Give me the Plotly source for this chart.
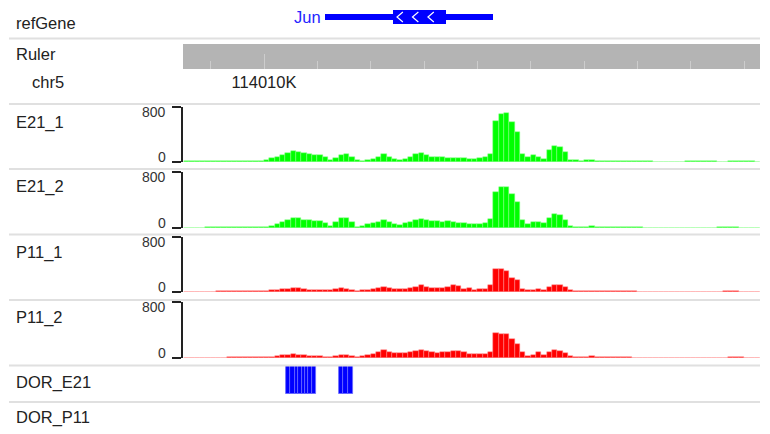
import plotly.graph_objects as go

# ---------------- data ----------------
track_names = ["E21_1", "E21_2", "P11_1", "P11_2"]
bin_start = 114008500
bin_size = 100

E21_1 = [8, 8, 8, 9, 9, 9, 10, 10, 10, 10, 11, 11, 12, 14, 16,
         30, 55, 80, 105, 135, 160, 150, 125, 110, 105, 95, 70, 35, 60, 100,
         110, 80, 30, 15, 30, 50, 75, 110, 80, 50, 30, 45, 70, 110, 125,
         95, 80, 75, 70, 65, 60, 55, 55, 50, 50, 55, 70, 120, 600, 700,
         710, 580, 430, 110, 70, 95, 75, 50, 170, 230, 225, 150, 30, 25, 20,
         22, 30, 20, 12, 10, 10, 10, 10, 9, 9, 8, 9, 8, 6, 5,
         5, 4, 4, 6, 8, 9, 9, 9, 8, 8, 7, 7, 8, 9, 9, 8, 8, 7]
E21_2 = [6, 6, 7, 7, 8, 8, 9, 9, 9, 9, 10, 10, 10, 11, 12,
         20, 35, 55, 80, 110, 150, 140, 115, 110, 105, 100, 70, 35, 90, 140,
         145, 90, 20, 35, 60, 65, 90, 120, 80, 60, 45, 65, 80, 115, 135,
         110, 100, 95, 90, 95, 80, 70, 65, 55, 60, 60, 75, 130, 520, 580,
         590, 480, 370, 110, 60, 80, 85, 70, 150, 200, 190, 120, 25, 20, 18,
         20, 25, 15, 12, 10, 10, 9, 9, 9, 8, 8, 7, 6, 4, 3,
         2, 2, 1, 1, 1, 1, 2, 3, 5, 7, 8, 8, 8, 8, 7, 7, 7, 6]
P11_1 = [4, 4, 5, 5, 6, 6, 8, 10, 15, 20, 12, 15, 18, 8, 12,
         18, 25, 30, 40, 50, 60, 55, 45, 35, 30, 25, 25, 25, 40, 55,
         50, 35, 10, 25, 35, 45, 60, 80, 65, 45, 40, 50, 60, 80, 95,
         75, 65, 60, 60, 70, 95, 85, 50, 55, 35, 40, 50, 100, 340, 330,
         300, 210, 175, 50, 25, 35, 40, 35, 80, 100, 100, 75, 25, 18, 15,
         15, 20, 15, 12, 10, 10, 9, 9, 8, 8, 7, 6, 5, 4, 4,
         3, 3, 3, 4, 4, 5, 5, 5, 6, 6, 7, 9, 11, 9, 7, 6, 6, 6]
P11_2 = [4, 4, 4, 5, 5, 6, 6, 7, 8, 10, 12, 10, 12, 10, 12,
         15, 20, 28, 38, 48, 55, 50, 42, 35, 30, 25, 20, 20, 35, 45,
         40, 25, 10, 30, 50, 60, 85, 110, 90, 70, 65, 70, 80, 100, 120,
         95, 80, 75, 80, 90, 100, 95, 80, 60, 55, 55, 60, 90, 360, 340,
         345, 270, 200, 90, 35, 50, 85, 40, 90, 115, 100, 70, 25, 20, 15,
         15, 22, 15, 12, 10, 9, 9, 8, 8, 7, 6, 6, 5, 4, 3,
         3, 3, 3, 3, 4, 4, 5, 5, 4, 4, 5, 7, 8, 8, 8, 7, 7, 7]
signal_values = [E21_1, E21_2, P11_1, P11_2]
signal_colors = ["#00ff00", "#00ff00", "#ff0000", "#ff0000"]
signal_edge = ["#8cff8c", "#8cff8c", "#ff8c8c", "#ff8c8c"]
y_max = 800
y_ticks = [0, 800]

# refGene (Jun, minus strand, single exon)
gene_name = "Jun"
gene_start, gene_end = 114011144, 114014294
cds_start, cds_end = 114012419, 114013413
arrow_step = 290

# DOR_E21 peaks
dor_e21_starts = [114010412, 114010487, 114010581, 114010637, 114010712, 114010769, 114010825, 114010900,
                  114011406, 114011481, 114011575]
dor_e21_ends = [114010487, 114010581, 114010637, 114010712, 114010769, 114010825, 114010900, 114010975,
                114011481, 114011575, 114011669]
dor_p11_starts = []
dor_p11_ends = []

# ruler
ruler_ticks = [114009000 + 1000 * k for k in range(11)]
ruler_label_pos = [114010000]
ruler_label_text = ["114010K"]
chrom = "chr5"
x_range = [114008481.25, 114019300]

# ---------------- layout helpers ----------------
W, H = 770, 434


def py(px):
    return 1 - px / H


FONT = "Liberation Sans, Arial, sans-serif"
TXT = "#222222"

fig = go.Figure()

# ruler background band
fig.add_trace(go.Bar(x=[(x_range[0] + x_range[1]) / 2], width=[x_range[1] - x_range[0]], y=[1], base=[0],
                     marker=dict(color="#b4b4b4", line=dict(width=0)), xaxis="x", yaxis="y2", hoverinfo="skip"))

# refGene
fig.add_trace(go.Bar(x=[(gene_start + gene_end) / 2], width=[gene_end - gene_start], base=[-0.22], y=[0.44],
                     marker=dict(color="#0000ff", line=dict(width=0)), xaxis="x", yaxis="y", hoverinfo="skip"))
fig.add_trace(go.Bar(x=[(cds_start + cds_end) / 2], width=[cds_end - cds_start], base=[-0.47], y=[0.94],
                     marker=dict(color="#0000ff", line=dict(width=0)), xaxis="x", yaxis="y", hoverinfo="skip"))
cx, cy = [], []
c = cds_start + 130
while c < cds_end - 60:
    cx += [c + 55, c - 55, c + 55, None]
    cy += [0.33, 0.0, -0.33, None]
    c += arrow_step
fig.add_trace(go.Scatter(x=cx, y=cy, mode="lines", line=dict(color="white", width=1.2),
                         xaxis="x", yaxis="y", hoverinfo="skip"))

# signal tracks
centers = [bin_start + bin_size * (i + 0.5) for i in range(len(E21_1))]
for k, vals in enumerate(signal_values):
    fig.add_trace(go.Bar(x=centers, y=vals, width=[bin_size] * len(vals),
                         marker=dict(color=signal_colors[k], line=dict(color=signal_edge[k], width=0.5)),
                         xaxis="x", yaxis="y%d" % (k + 3), hoverinfo="skip"))

# DOR tracks
for ax, ss, ee in [("y7", dor_e21_starts, dor_e21_ends), ("y8", dor_p11_starts, dor_p11_ends)]:
    fig.add_trace(go.Bar(x=[(s + e) / 2 for s, e in zip(ss, ee)], width=[e - s for s, e in zip(ss, ee)],
                         y=[1] * len(ss), base=[0] * len(ss),
                         marker=dict(color="#0000ff", line=dict(color="#6a6aff", width=0.8)),
                         xaxis="x", yaxis=ax, hoverinfo="skip"))

hidden = dict(showgrid=False, zeroline=False, showline=False, showticklabels=False, ticks="", fixedrange=True)

layout = dict(
    width=W, height=H, margin=dict(l=0, r=0, t=0, b=0),
    paper_bgcolor="white", plot_bgcolor="rgba(0,0,0,0)", showlegend=False, barmode="overlay", bargap=0,
    xaxis=dict(domain=[183 / W, 760 / W], range=x_range, anchor="y2", showgrid=False, zeroline=False,
               showline=False, ticks="inside", tickvals=ruler_label_pos, ticktext=ruler_label_text,
               ticklen=15, tickwidth=1, tickcolor="#cdcdcd",
               minor=dict(tickvals=ruler_ticks, ticks="inside", ticklen=8, tickwidth=1, tickcolor="#cdcdcd",
                          showgrid=False),
               tickfont=dict(family=FONT, size=16.5, color=TXT), ticklabelstandoff=1, fixedrange=True),
    yaxis=dict(domain=[py(32), py(2)], range=[-1, 1], anchor="x", **hidden),
    yaxis2=dict(domain=[py(69), py(44)], range=[0, 1], anchor="x", **hidden),
)
track_px = [(107, 162), (172, 228), (237, 292), (302, 358)]
for k, (top, bot) in enumerate(track_px):
    layout["yaxis%d" % (k + 3)] = dict(domain=[py(bot), py(top)], range=[0, y_max], anchor="x",
                                       showgrid=False, zeroline=False, showline=True, linecolor=TXT, linewidth=2,
                                       ticks="outside", ticklen=9, tickwidth=2, tickcolor=TXT, tickvals=y_ticks,
                                       showticklabels=False, fixedrange=True)
layout["yaxis7"] = dict(domain=[py(394), py(366)], range=[0, 1], anchor="x", **hidden)
layout["yaxis8"] = dict(domain=[py(432), py(404)], range=[0, 1], anchor="x", **hidden)

shapes = []
for sy in [38.5, 104, 169, 234.5, 300, 365.5, 402]:
    shapes.append(dict(type="line", xref="paper", yref="paper", x0=9 / W, x1=760 / W, y0=py(sy), y1=py(sy),
                       line=dict(color="#e0e0e0", width=2)))
layout["shapes"] = shapes

ann = []


def label(text, x, y, size=16.5, color=TXT, xanchor="left"):
    ann.append(dict(text=text, x=x / W, y=py(y), xref="paper", yref="paper", xanchor=xanchor, yanchor="middle",
                    showarrow=False, font=dict(family=FONT, size=size, color=color)))


label("refGene", 14, 23)
label("Ruler", 14, 53.5)
label(chrom, 30, 82)
for name, yy in zip(track_names, [122, 186.5, 252, 317.5]):
    label(name, 14, yy)
label("DOR_E21", 14, 382.5)
label("DOR_P11", 14, 417.5)

# gene name
ann.append(dict(text=gene_name, x=gene_start, y=0, xref="x", yref="y", xanchor="right", yanchor="middle",
                xshift=-2, showarrow=False, font=dict(family=FONT, size=16.5, color="#2525ff")))

# y-axis tick labels for signal tracks
for k in range(4):
    ax = "y%d" % (k + 3)
    ann.append(dict(text=str(y_ticks[1]), x=168 / W, y=y_ticks[1], xref="paper", yref=ax, xanchor="right",
                    yanchor="middle", yshift=-4.5, showarrow=False, font=dict(family=FONT, size=14, color="#333")))
    ann.append(dict(text=str(y_ticks[0]), x=168 / W, y=y_ticks[0], xref="paper", yref=ax, xanchor="right",
                    yanchor="middle", yshift=4.7, showarrow=False, font=dict(family=FONT, size=14, color="#333")))
layout["annotations"] = ann

fig.update_layout(**layout)
fig.write_html("out.html", config={"displayModeBar": False},
               post_script="document.body.style.margin='0';document.body.style.overflow='hidden';")
